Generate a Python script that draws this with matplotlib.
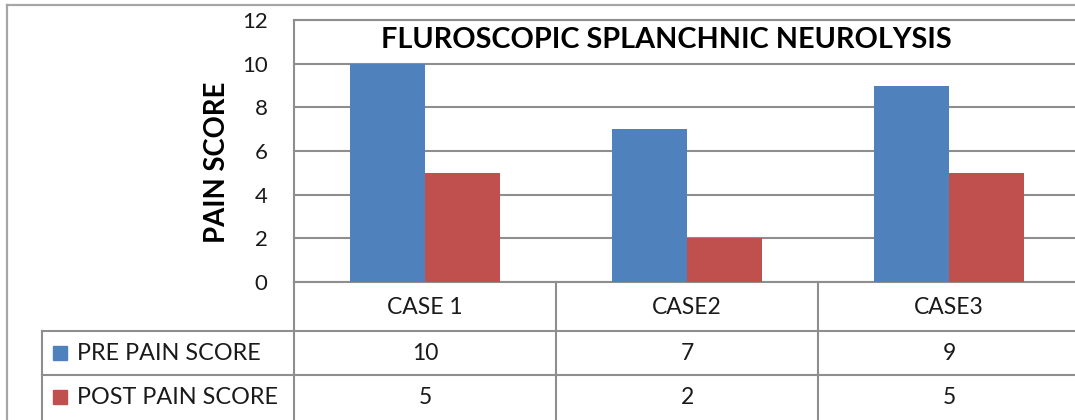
import matplotlib
matplotlib.use("Agg")
import matplotlib.pyplot as plt
from matplotlib.lines import Line2D
from matplotlib.patches import Rectangle
from matplotlib.transforms import blended_transform_factory
import numpy as np

# Data
categories = ["CASE 1", "CASE2", "CASE3"]
series_names = ["PRE PAIN SCORE", "POST PAIN SCORE"]
pre_scores = [10, 7, 9]
post_scores = [5, 2, 5]
y_ticks = [0, 2, 4, 6, 8, 10, 12]

title = "FLUROSCOPIC SPLANCHNIC NEUROLYSIS"
y_label = "PAIN SCORE"

BLUE = "#4F81BD"
RED = "#C0504D"
GRID = "#8E8E8E"
FRAME = "#A6A6A6"
TXT = "#1A1A1A"

plt.rcParams["font.family"] = ["Lato", "DejaVu Sans"]

W, H = 1075, 420
fig = plt.figure(figsize=(W / 100, H / 100), dpi=100)


def fx(px):
    return px / W


def fy(py):
    return 1 - py / H


# Plot area (right edge runs slightly past the canvas)
left, right, top, bottom = 294, 1080, 20, 282
ax = fig.add_axes([fx(left), fy(bottom), (right - left) / W, (bottom - top) / H])
ax.set_xlim(-0.5, len(categories) - 0.5)
ax.set_ylim(0, 12)
ax.set_yticks(y_ticks)
ax.set_yticklabels([str(t) for t in y_ticks], fontsize=16, color=TXT)
ax.set_xticks([])
ax.tick_params(axis="y", length=0, pad=19)
ax.yaxis.grid(True, color=GRID, linewidth=1.5)
ax.set_axisbelow(True)
for s in ax.spines.values():
    s.set_color(GRID)
    s.set_linewidth(1.5)

x = np.arange(len(categories))
bw = 75 / 262
ax.bar(x - bw / 2, pre_scores, bw, color=BLUE, zorder=3)
ax.bar(x + bw / 2, post_scores, bw, color=RED, zorder=3)

# Axis title and chart title
fig.text(fx(217), fy(162), y_label, rotation=90, ha="center", va="center",
         fontsize=19.8, fontweight="bold", color="black")
fig.text(fx(666), fy(40), title, ha="center", va="center",
         fontsize=20.7, fontweight="bold", color="black")

# Data table beneath the plot
ft = fig.transFigure
bt = blended_transform_factory(ax.transData, fig.transFigure)
row_lines = [331, 375]
for ry in row_lines:
    fig.add_artist(Line2D([fx(42), 1.0], [fy(ry), fy(ry)], color=GRID, lw=1.5, transform=ft))
fig.add_artist(Line2D([fx(42), fx(42)], [fy(331), 0], color=GRID, lw=1.5, transform=ft))
fig.add_artist(Line2D([fx(left), fx(left)], [fy(bottom), 0], color=GRID, lw=1.5, transform=ft))
for b in np.arange(len(categories) - 1) + 0.5:
    fig.add_artist(Line2D([b, b], [fy(bottom), 0], color=GRID, lw=1.5, transform=bt))

header_y, row_y = 307, [353, 397]
for i, c in enumerate(categories):
    fig.text(i, fy(header_y), c, transform=bt, ha="center", va="center", fontsize=16.5, color=TXT)
for vals, ry in zip([pre_scores, post_scores], row_y):
    for i, v in enumerate(vals):
        fig.text(i, fy(ry), str(v), transform=bt, ha="center", va="center", fontsize=16.5, color=TXT)

for name, col, ry in zip(series_names, [BLUE, RED], row_y):
    fig.add_artist(Rectangle((fx(53), fy(ry + 7)), 14 / W, 14 / H, color=col, transform=ft))
    fig.text(fx(77), fy(ry), name, ha="left", va="center", fontsize=16.8, color=TXT)

# Outer chart frame
fig.add_artist(Line2D([fx(7), 1.0], [fy(5), fy(5)], color=FRAME, lw=1.6, transform=ft))
fig.add_artist(Line2D([fx(7), fx(7)], [fy(5), 0], color=FRAME, lw=1.6, transform=ft))

fig.savefig("out.png", dpi=100, facecolor="white")
